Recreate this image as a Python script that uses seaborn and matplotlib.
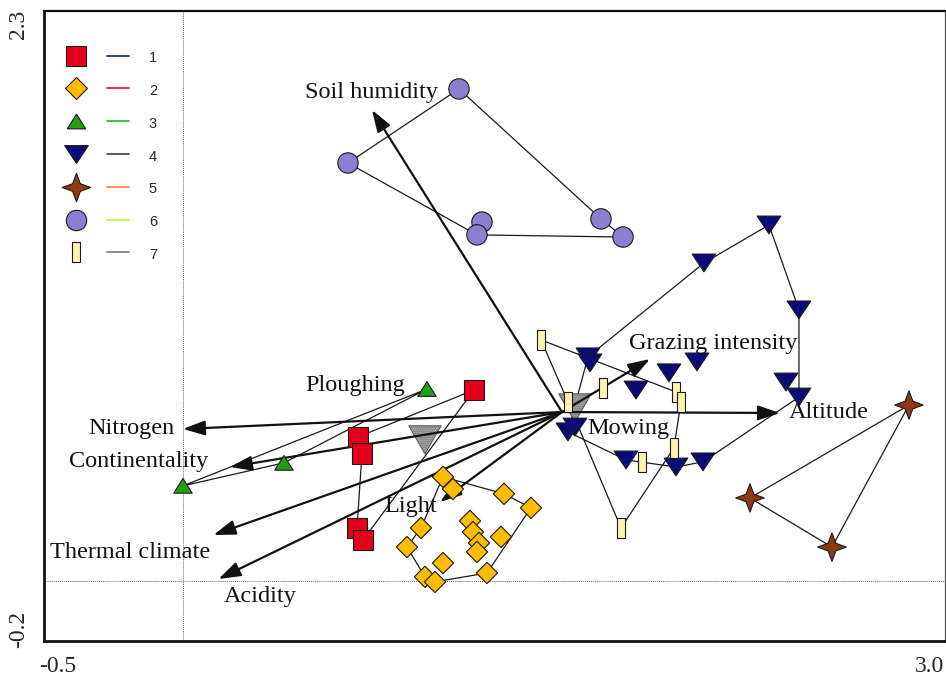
import numpy as np
import pandas as pd
import matplotlib
matplotlib.use("Agg")
import matplotlib.pyplot as plt
import matplotlib.transforms as mtransforms
from matplotlib.path import Path
from matplotlib.lines import Line2D
from matplotlib.legend_handler import HandlerTuple
import seaborn as sns

# ---------------- data (ordination scores) ----------------
g1_x = [1.164, 0.700, 0.716, 0.696, 0.720]
g1_y = [0.789, 0.595, 0.525, 0.219, 0.169]
g1_hull = [0, 1, 2, 3, 4, 0]

g2_x = [1.040, 1.080, 1.284, 1.392, 0.952, 1.148, 1.160, 1.184, 1.176, 1.272, 0.896, 1.040, 0.968, 1.008, 1.216]
g2_y = [0.430, 0.380, 0.360, 0.302, 0.219, 0.248, 0.202, 0.157, 0.120, 0.182, 0.140, 0.074, 0.017, -0.004, 0.033]
g2_hull = [0, 4, 10, 12, 13, 14, 3, 2, 0]

g3_x = [0.976, 0.404, 0.000]
g3_y = [0.793, 0.488, 0.393]
g3_hull = [0, 1, 2, 0]

g4_x = [2.344, 2.084, 2.464, 1.620, 1.628, 2.056, 1.944, 1.812, 2.412, 2.464, 1.540, 1.568, 1.772, 1.972, 2.080]
g4_y = [1.471, 1.314, 1.120, 0.926, 0.901, 0.905, 0.860, 0.789, 0.822, 0.760, 0.616, 0.636, 0.500, 0.471, 0.492]
g4_hull = [3, 1, 0, 2, 9, 14, 13, 12, 10, 3]

g5_x = [2.904, 2.268, 2.596]
g5_y = [0.727, 0.343, 0.140]
g5_hull = [0, 1, 2, 0]

g6_x = [1.104, 0.660, 1.196, 1.176, 1.672, 1.760]
g6_y = [2.033, 1.727, 1.483, 1.430, 1.496, 1.421]
g6_hull = [0, 1, 3, 5, 4, 0]

g7_x = [1.432, 1.540, 1.680, 1.972, 1.992, 1.964, 1.836, 1.752]
g7_y = [0.996, 0.740, 0.798, 0.781, 0.740, 0.550, 0.492, 0.219]
g7_hull = [0, 3, 4, 5, 7, 1, 0]

groups = ["1", "2", "3", "4", "5", "6", "7"]

# nominal variable centroids (grey triangles)
cent_names = ["Ploughing", "Mowing"]
cent_x = [0.968, 1.568]
cent_y = [0.583, 0.715]

# environmental vectors
origin = (1.516, 0.698)
vec_names = ["Soil humidity", "Grazing intensity", "Altitude", "Nitrogen",
             "Continentality", "Thermal climate", "Acidity", "Light"]
vec_x = [0.756, 1.868, 2.388, 0.000, 0.188, 0.122, 0.142, 1.028]
vec_y = [1.946, 0.917, 0.694, 0.628, 0.471, 0.190, 0.008, 0.326]

# label positions
lab_names = ["Soil humidity", "Grazing intensity", "Altitude", "Mowing", "Ploughing",
             "Nitrogen", "Continentality", "Thermal climate", "Acidity", "Light"]
lab_x = [0.754, 2.120, 2.582, 1.780, 0.688, -0.208, -0.176, -0.212, 0.308, 0.912]
lab_y = [2.017, 0.983, 0.694, 0.628, 0.806, 0.628, 0.492, 0.116, -0.066, 0.306]

xticks = [-0.5, 0.0, 0.5, 1.0, 1.5, 2.0, 2.5, 3.0]
xtick_labels = ["-0.5", "", "", "", "", "", "", "3.0"]
yticks = [-0.2, 0.0, 0.5, 1.0, 1.5, 2.0, 2.3]
ytick_labels = ["-0.2", "", "", "", "", "", "2.3"]

# ---------------- styles ----------------
def closed(verts):
    verts = list(verts) + [verts[0]]
    return Path(verts, closed=True)

tri_up = closed([(-1, -0.8), (1, -0.8), (0, 0.8)])
tri_down = closed([(-1, 0.75), (1, 0.75), (0, -0.75)])
tri_down_big = closed([(-1, 0.87), (1, 0.87), (0, -0.87)])
star4 = closed([(0, 1), (0.27, 0.27), (1, 0), (0.27, -0.27), (0, -1), (-0.27, -0.27), (-1, 0), (-0.27, 0.27)])
rect = closed([(-0.45, -1), (0.45, -1), (0.45, 1), (-0.45, 1)])

face = {"1": "#E3001B", "2": "#FFBB00", "3": "#22A012", "4": "#0A0A78",
        "5": "#8B3A12", "6": "#8A7FD0", "7": "#FFF3B0"}
marks = {"1": "s", "2": "D", "3": tri_up, "4": tri_down, "5": star4, "6": "o", "7": rect}
sizes = {"1": 225, "2": 118, "3": 175, "4": 290, "5": 420, "6": 215, "7": 200}
line_cols = {"1": "#2B2B8F", "2": "#EE1C3C", "3": "#33BB33", "4": "#3D4F66",
             "5": "#FF8844", "6": "#AAFF33", "7": "#8C8580"}

sns.set_style("white")
plt.rcParams["font.family"] = ["Liberation Serif", "DejaVu Serif"]

fig = plt.figure(figsize=(9.46, 6.79), dpi=100)
ax = fig.add_axes([0.0465, 0.056, 0.9524, 0.9278])

xs = [g1_x, g2_x, g3_x, g4_x, g5_x, g6_x, g7_x]
ys = [g1_y, g2_y, g3_y, g4_y, g5_y, g6_y, g7_y]
hulls = [g1_hull, g2_hull, g3_hull, g4_hull, g5_hull, g6_hull, g7_hull]

frames = []
for g, gx, gy in zip(groups, xs, ys):
    frames.append(pd.DataFrame({"x": gx, "y": gy, "group": g}))
df = pd.concat(frames, ignore_index=True)

# reference dotted axes
ax.axvline(0, ls=(0, (1, 1)), lw=0.7, color="#666666", zorder=1)
ax.axhline(0, ls=(0, (1, 1)), lw=0.7, color="#666666", zorder=1)

# hull connecting lines
for gx, gy, h in zip(xs, ys, hulls):
    ax.plot([gx[i] for i in h], [gy[i] for i in h], color="#1a1a1a", lw=0.9, zorder=2)

# centroid triangles
ax.scatter(cent_x, cent_y, marker=tri_down_big, s=540, facecolor="#c8c8c8",
           edgecolor="#5a5a5a", hatch="........", linewidth=0.8, zorder=2.5)

# environmental arrows
for vx, vy in zip(vec_x, vec_y):
    ax.annotate("", xy=(vx, vy), xytext=origin, xycoords="data",
                arrowprops=dict(arrowstyle="-|>,head_length=0.95,head_width=0.32",
                                lw=1.6, color="#111111", mutation_scale=14,
                                shrinkA=0, shrinkB=0), zorder=3)

# sample points
sns.scatterplot(data=df, x="x", y="y", hue="group", style="group", size="group",
                palette=face, markers=marks, sizes=sizes, edgecolor="#1a1a1a",
                linewidth=0.8, legend=False, ax=ax, zorder=5)

for name, lx, ly in zip(lab_names, lab_x, lab_y):
    ax.text(lx, ly, name, ha="center", va="center", fontsize=17.5,
            color="#111111", zorder=6)

ax.set_xlim(-0.556, 3.048)
ax.set_ylim(-0.248, 2.355)
ax.set_xticks(xticks)
ax.set_xticklabels(xtick_labels, fontsize=17)
ax.set_yticks(yticks)
ax.set_yticklabels(ytick_labels, fontsize=17, rotation=90, va="center")
ax.tick_params(direction="inout", length=10, width=1.8, color="#111111", pad=6)
last = ax.get_xticklabels()[-1]
last.set_transform(last.get_transform() +
                   mtransforms.ScaledTranslation(-3 / 100, 0, fig.dpi_scale_trans))
ax.set_xlabel("")
ax.set_ylabel("")

for side in ["left", "bottom"]:
    ax.spines[side].set_linewidth(2.0)
    ax.spines[side].set_color("#111111")
ax.spines["top"].set_linewidth(1.6)
ax.spines["top"].set_color("#111111")
ax.spines["right"].set_linewidth(0.9)
ax.spines["right"].set_color("#555555")

# legend: marker + line sample + label
handles = []
for g in groups:
    m = Line2D([], [], ls="none", marker=marks[g], markerfacecolor=face[g],
               markeredgecolor="#1a1a1a", markeredgewidth=0.8,
               markersize=np.sqrt(sizes[g]))
    l = Line2D([], [], color=line_cols[g], lw=1.3)
    handles.append((m, l))
leg = ax.legend(handles, groups, handler_map={tuple: HandlerTuple(ndivide=None, pad=1.4)},
                loc="upper left", bbox_to_anchor=(0.0166, 0.949), borderaxespad=0,
                frameon=False, handlelength=4.4, handleheight=1.4, labelspacing=1.0,
                handletextpad=1.37, prop={"family": "Liberation Sans", "size": 10.5})
for vp in leg._legend_handle_box.get_children():
    vp.sep = 11.5

fig.savefig("out.png", dpi=100)
